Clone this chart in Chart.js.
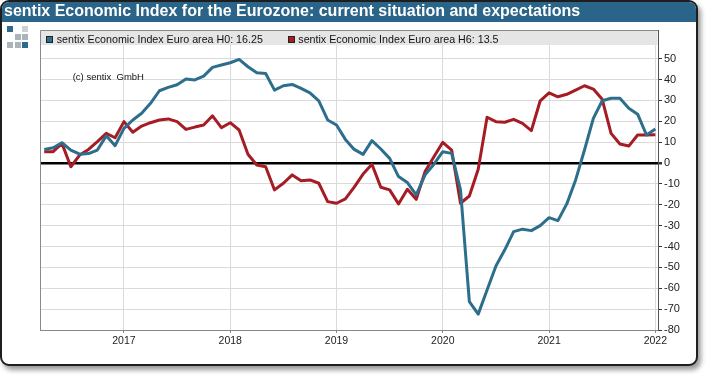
<!DOCTYPE html>
<html><head><meta charset="utf-8">
<script src="https://cdn.jsdelivr.net/npm/chart.js@4.4.1/dist/chart.umd.min.js"></script>
<style>
html,body{margin:0;padding:0;background:#fff;}
body{width:710px;height:376px;position:relative;overflow:hidden;font-family:"Liberation Sans",Arial,sans-serif;}
#card{position:absolute;left:0;top:0;width:694px;height:362px;border:2px solid #1e1e1e;border-radius:9px;box-shadow:3px 4px 5px rgba(0,0,0,0.4);background:#fff;overflow:hidden;}
#titlebar{position:absolute;left:0;top:0;right:0;height:20px;background:#2a6589;}
#title{position:absolute;left:4px;top:3px;line-height:16px;color:#fff;font-weight:bold;font-size:16px;white-space:nowrap;z-index:3;}
#chart{position:absolute;left:0;top:0;z-index:1;}
.sq{position:absolute;width:5px;height:5px;border:1px solid #222;z-index:3;}
.lg{position:absolute;top:31.6px;line-height:14px;font-size:10.7px;color:#111;white-space:nowrap;z-index:3;}
#copy{position:absolute;left:72.7px;top:71.7px;line-height:10px;font-size:9.5px;color:#111;white-space:nowrap;z-index:3;}
.logo{position:absolute;width:6px;height:6px;z-index:3;}
</style></head>
<body>
<div id="card"><div id="titlebar"></div></div>
<div id="title">sentix Economic Index for the Eurozone: current situation and expectations</div>
<div class="logo" style="left:7px;top:26px;background:#2d6a8e"></div>
<div class="logo" style="left:22px;top:26px;background:#c9d1d7"></div>
<div class="logo" style="left:15px;top:34px;background:#aab4bc"></div>
<div class="logo" style="left:22px;top:34px;background:#aab4bc"></div>
<div class="logo" style="left:7px;top:42px;background:#aab4bc"></div>
<div class="logo" style="left:15px;top:42px;background:#aab4bc"></div>
<div class="logo" style="left:22px;top:42px;background:#2d6a8e"></div>
<canvas id="chart" width="710" height="376"></canvas>
<div id="legend"></div>
<div id="copy">(c) sentix&nbsp; GmbH</div>
<script>
const months = [
 '2016-04','2016-05','2016-06','2016-07','2016-08','2016-09','2016-10','2016-11','2016-12',
 '2017-01','2017-02','2017-03','2017-04','2017-05','2017-06','2017-07','2017-08','2017-09','2017-10','2017-11','2017-12',
 '2018-01','2018-02','2018-03','2018-04','2018-05','2018-06','2018-07','2018-08','2018-09','2018-10','2018-11','2018-12',
 '2019-01','2019-02','2019-03','2019-04','2019-05','2019-06','2019-07','2019-08','2019-09','2019-10','2019-11','2019-12',
 '2020-01','2020-02','2020-03','2020-04','2020-05','2020-06','2020-07','2020-08','2020-09','2020-10','2020-11','2020-12',
 '2021-01','2021-02','2021-03','2021-04','2021-05','2021-06','2021-07','2021-08','2021-09','2021-10','2021-11','2021-12',
 '2022-01'
];
const h0Values = [
 6.5, 7.3, 9.7, 6.2, 4.2, 4.5, 6.2, 13.0, 8.3,
 16.6, 20.6, 23.8, 28.6, 34.6, 36.2, 37.5, 40.2, 39.8, 41.6, 45.8, 46.9,
 48.0, 49.6, 46.1, 43.2, 42.9, 34.9, 37.0, 37.6, 35.7, 33.6, 29.8, 20.6,
 18.2, 11.3, 6.5, 4.1, 10.7, 6.7, 2.2, -6.5, -9.4, -15.3, -5.7, -0.6,
 5.4, 4.6, -12.9, -66.4, -72.4, -60.8, -49.3, -41.6, -32.9, -31.7, -32.4, -30.0,
 -26.2, -27.6, -19.6, -8.1, 6.2, 21.4, 29.8, 31.0, 31.0, 26.2, 23.4, 13.4,
 16.25
];
const h6Values = [
 5.4, 5.4, 9.4, -1.8, 3.8, 6.5, 10.2, 14.2, 12.1,
 19.8, 14.7, 17.7, 19.3, 20.6, 21.1, 19.8, 16.1, 17.2, 18.2, 22.6, 16.9,
 19.3, 15.8, 4.2, -1.0, -1.8, -12.9, -9.7, -5.7, -8.5, -8.1, -9.7, -18.5,
 -19.3, -17.2, -11.6, -5.3, -0.6, -11.6, -12.9, -19.6, -12.6, -17.4, -4.1, 3.0,
 9.9, 6.2, -19.3, -15.8, -3.0, 21.9, 19.8, 19.5, 20.9, 19.0, 15.5, 29.8,
 33.6, 31.7, 32.9, 34.9, 37.0, 35.4, 30.5, 14.2, 9.1, 8.1, 13.4, 13.4,
 13.5
];
const seriesNames = ['sentix Economic Index Euro area H0', 'sentix Economic Index Euro area H6'];
const seriesColors = ['#2d6e8c', '#a51c24'];
const yearTicks = [2017, 2018, 2019, 2020, 2021, 2022];
const yTicks = [-80, -70, -60, -50, -40, -30, -20, -10, 0, 10, 20, 30, 40, 50];

function toPoints(vals){
  return months.map((m,i)=>{
    const [y,mo] = m.split('-').map(Number);
    return {x: y + (mo-1)/12, y: vals[i]};
  });
}

const FONT = '"Liberation Sans", Arial, sans-serif';

const framePlugin = {
  id:'frame',
  beforeDatasetsDraw(chart){
    const {ctx, chartArea:a} = chart;
    ctx.save();
    ctx.fillStyle = '#e5e5e5';
    ctx.fillRect(a.left+0.5, a.top, a.right - a.left - 1, 15);
    ctx.strokeStyle = '#8a8a8a';
    ctx.lineWidth = 1;
    ctx.beginPath();
    ctx.moveTo(a.left+0.5, a.bottom);
    ctx.lineTo(a.left+0.5, a.top+0.5);
    ctx.lineTo(a.right, a.top+0.5);
    ctx.stroke();
    ctx.restore();
  }
};

const chart = new Chart(document.getElementById('chart'), {
  type:'line',
  data:{datasets:[
    {label:seriesNames[0], data:toPoints(h0Values), borderColor:seriesColors[0], backgroundColor:seriesColors[0], borderWidth:3, pointRadius:0, tension:0, borderJoinStyle:'round'},
    {label:seriesNames[1], data:toPoints(h6Values), borderColor:seriesColors[1], backgroundColor:seriesColors[1], borderWidth:3, pointRadius:0, tension:0, borderJoinStyle:'round'}
  ]},
  options:{
    responsive:false, animation:false, devicePixelRatio:1,
    layout:{padding:{left:40, top:30, right:0, bottom:0}},
    plugins:{legend:{display:false}, tooltip:{enabled:false}},
    scales:{
      x:{
        type:'linear', min:2016.21, max:2022.025,
        afterBuildTicks:s=>{s.ticks = yearTicks.map(v=>({value:v}));},
        afterFit:s=>{s.height = 46;},
        grid:{color:'#dadada', lineWidth:1, tickLength:3, tickColor:'#888'},
        border:{color:'#888'},
        ticks:{callback:v=>String(v), font:{family:FONT, size:10.5}, color:'#222', padding:2, maxRotation:0, autoSkip:false}
      },
      y:{
        position:'right', min:-80, max:63.7,
        afterBuildTicks:s=>{s.ticks = yTicks.map(v=>({value:v}));},
        afterFit:s=>{s.width = 52;},
        grid:{
          color:c=> (c.tick && c.tick.value===0) ? '#000' : '#dadada',
          lineWidth:c=> (c.tick && c.tick.value===0) ? 2.5 : 1,
          tickLength:4, tickColor:'#333'
        },
        border:{color:'#555'},
        ticks:{font:{family:FONT, size:11}, color:'#222', padding:2, autoSkip:false}
      }
    }
  },
  plugins:[framePlugin]
});

// legend built from the datasets
const legend = document.getElementById('legend');
const sqX = [45.5, 288.3], txX = [56.7, 298.3];
chart.data.datasets.forEach((ds,i)=>{
  const vals = i===0 ? h0Values : h6Values;
  const sq = document.createElement('div');
  sq.className='sq'; sq.style.left=sqX[i]+'px'; sq.style.top='35.5px'; sq.style.background=ds.borderColor;
  legend.appendChild(sq);
  const t = document.createElement('div');
  t.className='lg'; t.style.left=txX[i]+'px';
  t.textContent = ds.label + ': ' + vals[vals.length-1];
  legend.appendChild(t);
});
</script>
</body></html>
